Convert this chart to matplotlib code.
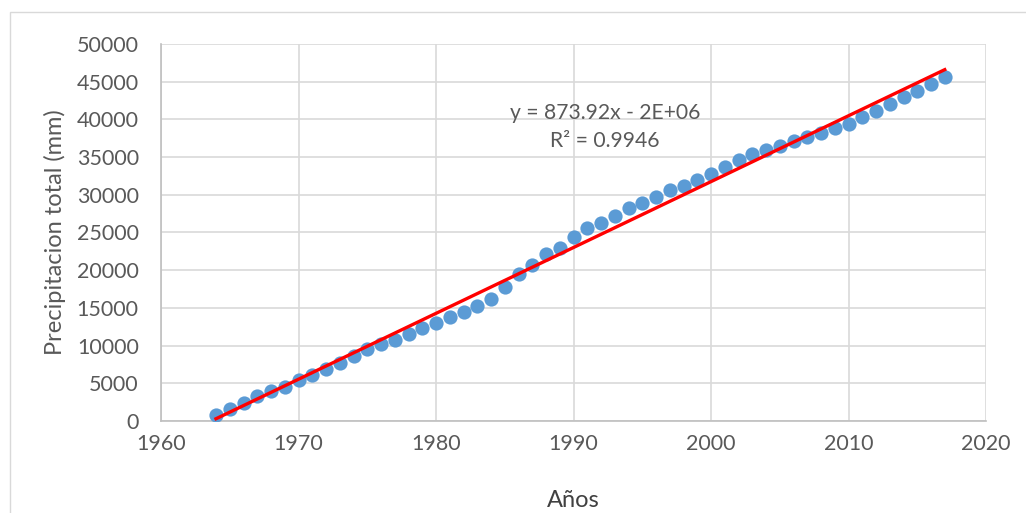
import numpy as np
import matplotlib
matplotlib.use("Agg")
import matplotlib.pyplot as plt
from matplotlib.patches import Rectangle

years = list(range(1964, 2018))
precip = [800, 1600, 2400, 3300, 4000, 4500, 5400, 6100, 6900, 7700,
          8600, 9500, 10200, 10800, 11500, 12300, 13000, 13800, 14500, 15300,
          16200, 17800, 19500, 20700, 22100, 23000, 24400, 25600, 26300, 27200,
          28300, 28900, 29700, 30600, 31200, 31900, 32700, 33700, 34600, 35400,
          36000, 36500, 37100, 37700, 38200, 38800, 39400, 40300, 41100, 42000,
          43000, 43800, 44700, 45600]
equation_text = "y = 873.92x - 2E+06\nR² = 0.9946"
x_ticks = [1960, 1970, 1980, 1990, 2000, 2010, 2020]
y_ticks = list(range(0, 50001, 5000))

plt.rcParams['font.family'] = ['Lato', 'DejaVu Sans']

fig = plt.figure(figsize=(10.26, 5.13), dpi=100)
fig.patches.append(Rectangle((10/1026, -0.01), 1.1, 1 - 12/513 + 0.01,
                             transform=fig.transFigure, fill=False,
                             edgecolor='#D9D9D9', linewidth=1))
ax = fig.add_axes([161/1026, 1 - 421/513, (986 - 161)/1026, (421 - 44)/513])

x = np.array(years, dtype=float)
y = np.array(precip, dtype=float)
ax.scatter(x, y, s=105, color='#5B9BD5', zorder=3, linewidths=0)
coef = np.polyfit(x, y, 1)
xl = np.array([x.min(), x.max()])
ax.plot(xl, np.polyval(coef, xl), color='#FF0000', linewidth=2.4, zorder=4)

ax.set_xlim(1960, 2020)
ax.set_ylim(0, 50000)
ax.set_xticks(x_ticks)
ax.set_yticks(y_ticks)
ax.grid(True, color='#D9D9D9', linewidth=1.2, zorder=0)
ax.set_axisbelow(True)
for s in ['top', 'right']:
    ax.spines[s].set_visible(False)
for s in ['left', 'bottom']:
    ax.spines[s].set_color('#BFBFBF')
    ax.spines[s].set_linewidth(1.2)
ax.tick_params(length=0, labelsize=15.5, colors='#595959')
ax.tick_params(axis='y', pad=16)
ax.tick_params(axis='x', pad=9)
ax.set_ylabel('Precipitacion total (mm)', fontsize=17, color='#595959', labelpad=8)
ax.set_xlabel('Años', fontsize=17, color='#404040', labelpad=26)

ax.text(1992.3, 39000, equation_text, fontsize=15.2, color='#595959',
        ha='center', va='center', linespacing=1.45)

fig.savefig('out.png', dpi=100)
